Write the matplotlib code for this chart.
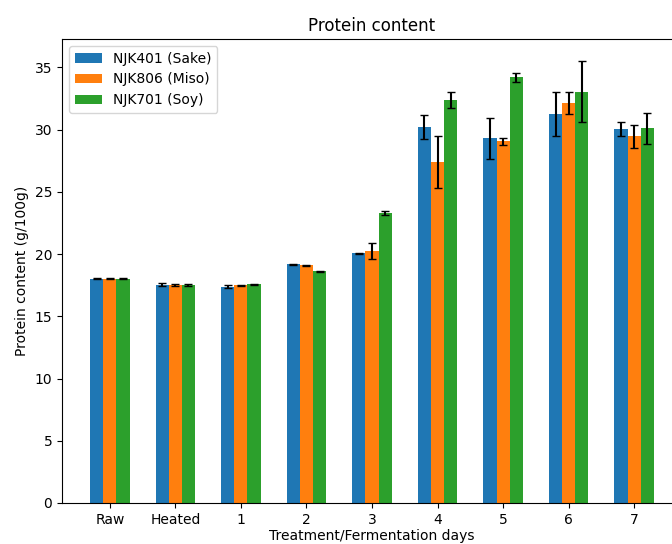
import numpy as np
import matplotlib
matplotlib.use("Agg")
import matplotlib.pyplot as plt

# categorias del eje x
categorias = ["Raw", "Heated", "1", "2", "3", "4", "5", "6", "7"]

# medias por cepa (g/100g)
sake = [18.0, 17.55, 17.38, 19.17, 20.05, 30.2, 29.3, 31.25, 30.05]
miso = [18.0, 17.52, 17.48, 19.08, 20.27, 27.4, 29.05, 32.15, 29.45]
soy = [18.0, 17.52, 17.56, 18.6, 23.28, 32.4, 34.2, 33.05, 30.12]

# desviaciones
sake_err = [0.04, 0.1, 0.1, 0.05, 0.05, 0.95, 1.65, 1.75, 0.55]
miso_err = [0.04, 0.1, 0.05, 0.05, 0.65, 2.1, 0.3, 0.88, 0.92]
soy_err = [0.04, 0.1, 0.05, 0.05, 0.15, 0.65, 0.37, 2.45, 1.25]

series = [
    ("NJK401 (Sake)", sake, sake_err, "#1f77b4"),
    ("NJK806 (Miso)", miso, miso_err, "#ff7f0e"),
    ("NJK701 (Soy)", soy, soy_err, "#2ca02c"),
]

fig = plt.figure(figsize=(6.72, 5.44), dpi=100)
# el original esta recortado por la derecha: el eje sobresale del lienzo
ax = fig.add_axes([62 / 672, 41 / 544, 620 / 672, 464 / 544])

x = np.arange(len(categorias))
ancho = 0.2
for i, (nombre, vals, errs, color) in enumerate(series):
    ax.bar(x + (i - 1) * ancho, vals, ancho, yerr=errs, capsize=3,
           color=color, label=nombre, ecolor="black")

ax.set_xticks(x)
ax.set_xticklabels(categorias)
ax.set_title("Protein content")
ax.set_xlabel("Treatment/Fermentation days", labelpad=1.5)
ax.set_ylabel("Protein content (g/100g)")
ax.legend(loc="upper left")

fig.savefig("out.png", dpi=100)
